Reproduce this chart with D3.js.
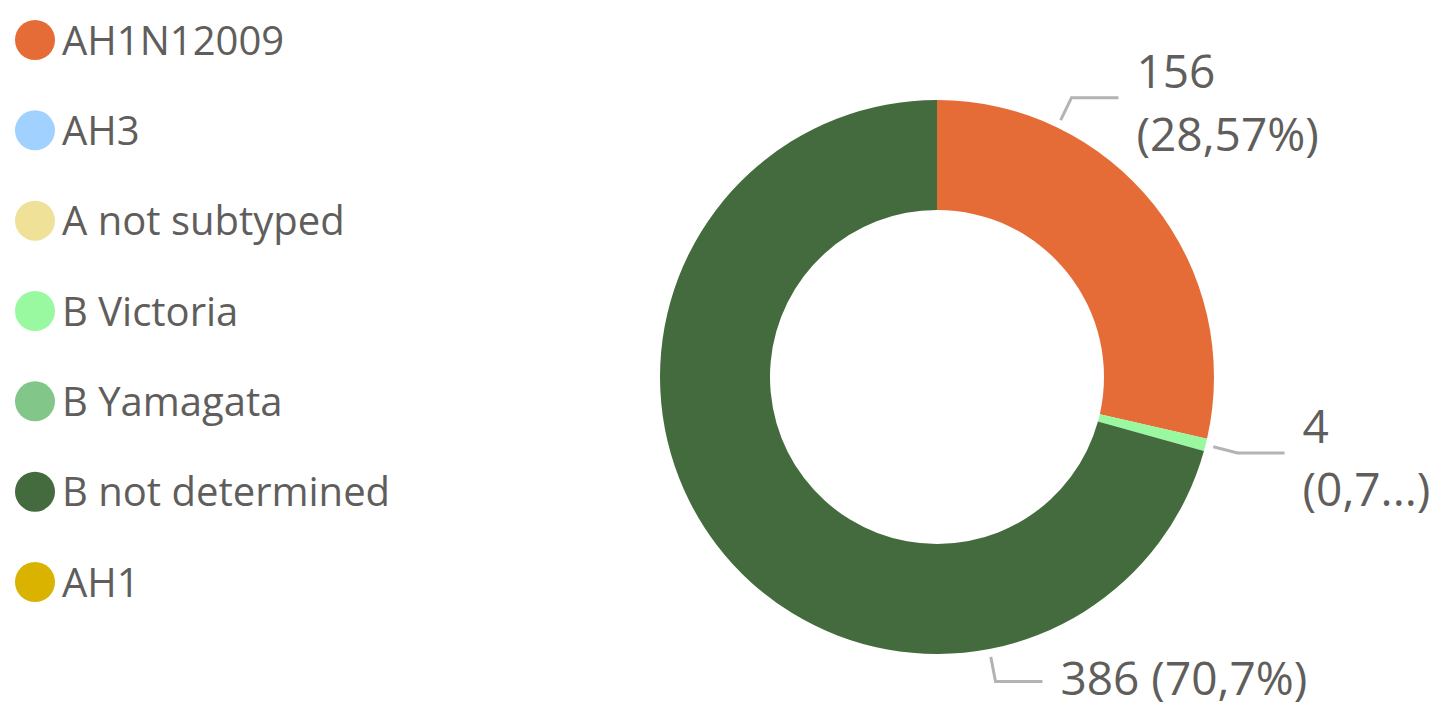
<!DOCTYPE html>
<html>
<head>
<meta charset="utf-8">
<script src="https://cdn.jsdelivr.net/npm/d3@7"></script>
<style>
  html, body { margin: 0; padding: 0; background: #fff; }
  svg { display: block; }
  text { font-family: "Open Sans", "Noto Sans", sans-serif; fill: #605E5C; }
</style>
</head>
<body>
<svg id="chart" width="1430" height="708"></svg>
<script>
// ---- data ----
const categories = ["AH1N12009", "AH3", "A not subtyped", "B Victoria", "B Yamagata", "B not determined", "AH1"];
const values = [156, 0, 0, 4, 0, 386, 0];
const colors = ["#E66C37", "#A0D1FF", "#F0E199", "#98F9A0", "#82C68A", "#446B3D", "#D9B300"];
// label layout per category: where along the slice the leader starts, and whether to wrap
const labelAnchor = [0.25, 0.5, 0.5, 0.5, 0.5, 0.25, 0.5];
const labelWrap = [true, false, false, true, false, false, false];

const W = 1430, H = 708;
const svg = d3.select("#chart");

const cx = 937, cy = 377, outerR = 277, innerR = 167;

const color = d3.scaleOrdinal().domain(categories).range(colors);
const data = categories.map((c, i) => ({ cat: c, value: values[i], i }));
const total = d3.sum(values);

const pie = d3.pie().sort(null).value(d => d.value);
const arcs = pie(data);
const arc = d3.arc().innerRadius(innerR).outerRadius(outerR);

const g = svg.append("g").attr("transform", `translate(${cx},${cy})`);
g.selectAll("path.slice")
  .data(arcs.filter(a => a.data.value > 0))
  .join("path")
  .attr("class", "slice")
  .attr("d", arc)
  .attr("fill", d => color(d.data.cat));

// ---- labels ----
const fmtPct = v => {
  let s = (v * 100).toFixed(2).replace(/\.?0+$/, "");
  return s.replace(".", ",") + "%";
};
const labelFont = 46;
const pt = (ang, r) => [r * Math.sin(ang), -r * Math.cos(ang)];

arcs.filter(a => a.data.value > 0).forEach(a => {
  const f = labelAnchor[a.data.i];
  const ang = a.startAngle + (a.endAngle - a.startAngle) * f;
  const p0 = pt(ang, outerR + 8);
  const p1 = pt(ang, outerR + 33);
  const dir = p1[0] >= 0 ? 1 : -1;
  const p2 = [p1[0] + dir * 47, p1[1]];
  g.append("path")
    .attr("d", d3.line()([p0, p1, p2]))
    .attr("fill", "none")
    .attr("stroke", "#B3B3B3")
    .attr("stroke-width", 3);

  const tx = p2[0] + dir * 18;
  const pctStr = fmtPct(a.data.value / total);
  const anchor = dir > 0 ? "start" : "end";
  const maxW = dir > 0 ? (W - (cx + tx)) + 6 : (cx + tx) + 6;

  const fitParen = (t, base) => {
    // truncate inside parentheses to fit available width
    let s = base;
    t.text(`(${s})`);
    if (t.node().getComputedTextLength() <= maxW) return;
    while (s.length > 1) {
      s = s.slice(0, -1);
      t.text(`(${s}...)`);
      if (t.node().getComputedTextLength() <= maxW) return;
    }
  };

  if (labelWrap[a.data.i]) {
    g.append("text")
      .attr("x", tx).attr("y", p2[1] - 10)
      .attr("text-anchor", anchor)
      .attr("font-size", labelFont)
      .text(a.data.value);
    const t2 = g.append("text")
      .attr("x", tx).attr("y", p2[1] + 53)
      .attr("text-anchor", anchor)
      .attr("font-size", labelFont);
    fitParen(t2, pctStr);
  } else {
    g.append("text")
      .attr("x", tx).attr("y", p2[1] + 14)
      .attr("text-anchor", anchor)
      .attr("font-size", labelFont)
      .text(`${a.data.value} (${pctStr})`);
  }
});

// ---- legend ----
const legY = d3.scalePoint().domain(categories).range([40, 582]);
const leg = svg.append("g");
const items = leg.selectAll("g.item").data(categories).join("g")
  .attr("class", "item")
  .attr("transform", d => `translate(0,${legY(d)})`);
items.append("circle").attr("cx", 35).attr("cy", 0).attr("r", 20).attr("fill", d => color(d));
items.append("text").attr("x", 62).attr("y", 14.5).attr("font-size", 40).text(d => d);
</script>
</body>
</html>
